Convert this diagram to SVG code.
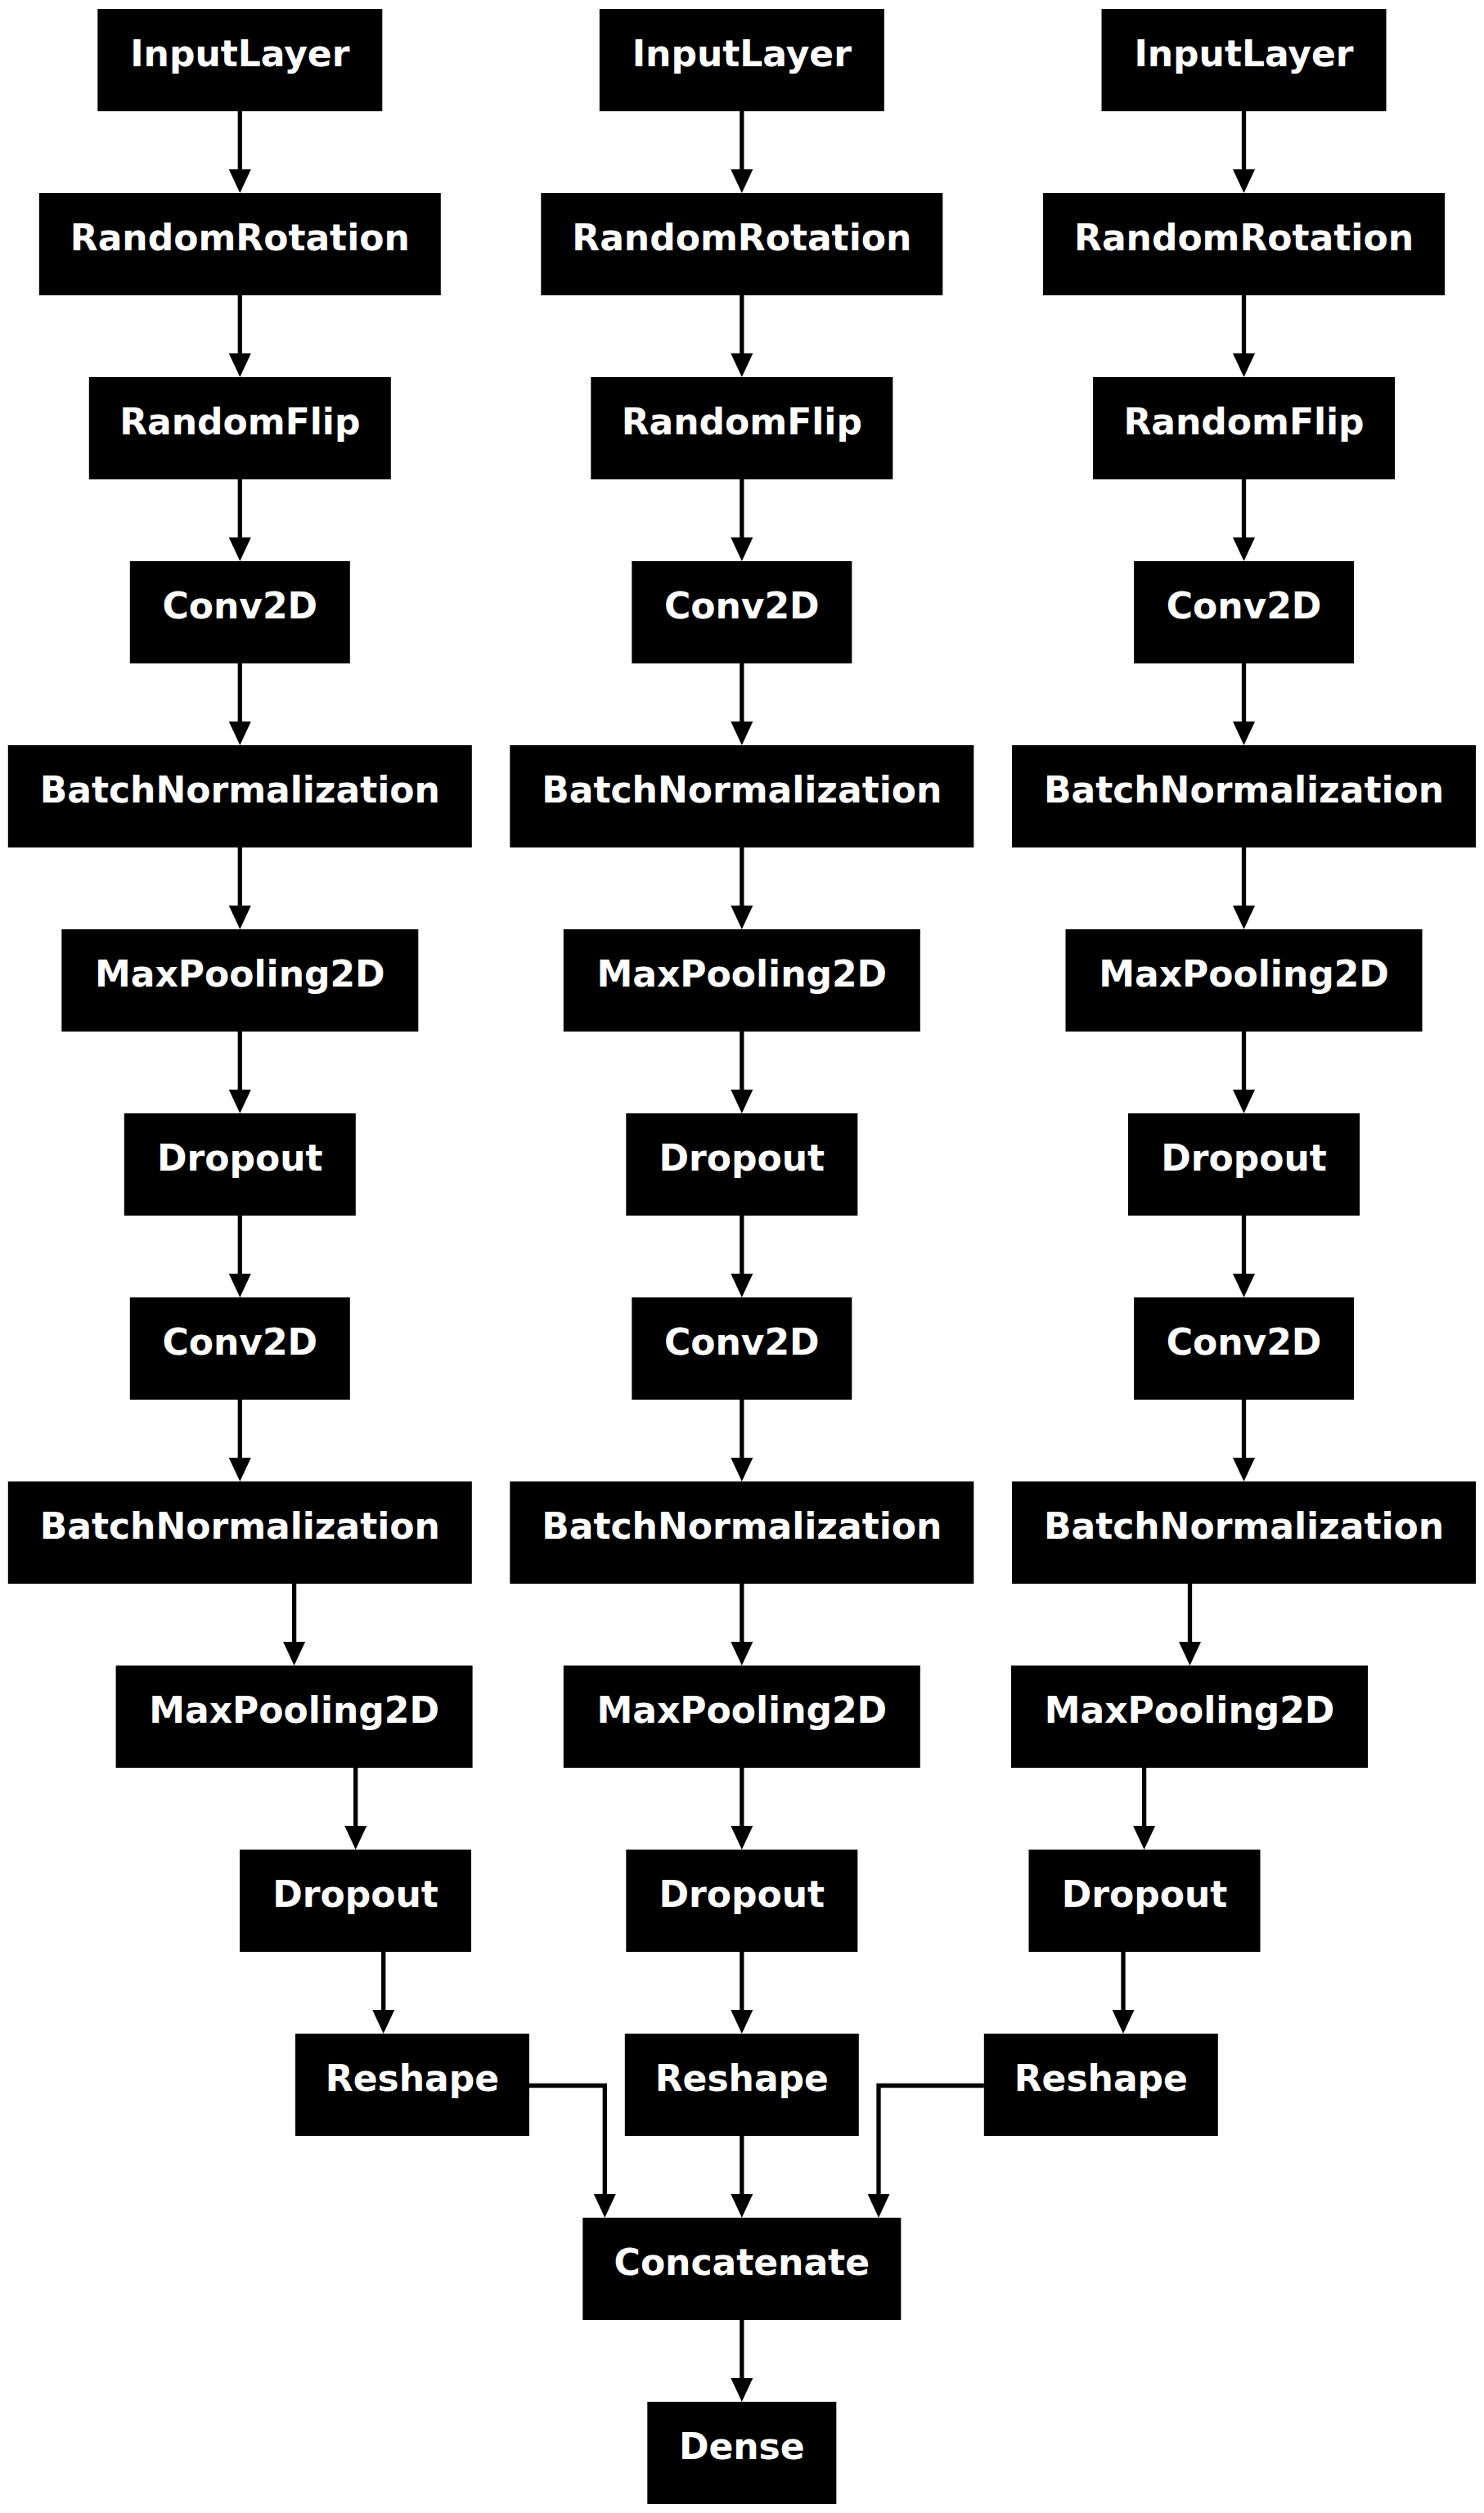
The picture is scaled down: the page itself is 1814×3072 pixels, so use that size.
<svg xmlns="http://www.w3.org/2000/svg" width="1814" height="3072" viewBox="0 0 1814 3072">
<style>
.node rect{fill:#000;}
.node text{fill:#fff;font-family:"DejaVu Sans","Liberation Sans",sans-serif;font-weight:bold;font-size:44px;text-anchor:middle;}
.edge{fill:none;stroke:#000;stroke-width:5.3;marker-end:url(#ah);}
</style>
<defs>
<marker id="ah" viewBox="0 0 29 27" refX="0" refY="13.5" markerWidth="29" markerHeight="27" markerUnits="userSpaceOnUse" orient="auto">
<path d="M0,0 L29,13.5 L0,27 z" fill="#000"/>
</marker>
</defs>
<rect width="1814" height="3072" fill="#fff"/>
<g id="connectors">
<!-- column 1 -->
<path class="edge" d="M293.3,136 V207"/>
<path class="edge" d="M293.3,361 V432"/>
<path class="edge" d="M293.3,586 V657"/>
<path class="edge" d="M293.3,811 V882"/>
<path class="edge" d="M293.3,1036 V1107"/>
<path class="edge" d="M293.3,1261 V1332"/>
<path class="edge" d="M293.3,1486 V1557"/>
<path class="edge" d="M293.3,1711 V1782"/>
<path class="edge" d="M359.6,1936 V2007"/>
<path class="edge" d="M434.7,2161 V2232"/>
<path class="edge" d="M468.7,2386 V2457"/>
<!-- column 2 -->
<path class="edge" d="M906.8,136 V207"/>
<path class="edge" d="M906.8,361 V432"/>
<path class="edge" d="M906.8,586 V657"/>
<path class="edge" d="M906.8,811 V882"/>
<path class="edge" d="M906.8,1036 V1107"/>
<path class="edge" d="M906.8,1261 V1332"/>
<path class="edge" d="M906.8,1486 V1557"/>
<path class="edge" d="M906.8,1711 V1782"/>
<path class="edge" d="M906.8,1936 V2007"/>
<path class="edge" d="M906.8,2161 V2232"/>
<path class="edge" d="M906.8,2386 V2457"/>
<!-- column 3 -->
<path class="edge" d="M1520.5,136 V207"/>
<path class="edge" d="M1520.5,361 V432"/>
<path class="edge" d="M1520.5,586 V657"/>
<path class="edge" d="M1520.5,811 V882"/>
<path class="edge" d="M1520.5,1036 V1107"/>
<path class="edge" d="M1520.5,1261 V1332"/>
<path class="edge" d="M1520.5,1486 V1557"/>
<path class="edge" d="M1520.5,1711 V1782"/>
<path class="edge" d="M1454.5,1936 V2007"/>
<path class="edge" d="M1398.6,2161 V2232"/>
<path class="edge" d="M1373,2386 V2457"/>
<!-- merge -->
<path class="edge" d="M647,2549.5 H739.3 V2682"/>
<path class="edge" d="M906.8,2611 V2682"/>
<path class="edge" d="M1202.8,2549.5 H1074 V2682"/>
<path class="edge" d="M906.8,2836 V2907"/>
</g>
<!-- column 1 nodes -->
<g id="c1_input" class="node"><rect x="119.3" y="11" width="348" height="125"/><text x="293.3" y="81">InputLayer</text></g>
<g id="c1_rot" class="node"><rect x="47.8" y="236" width="491" height="125"/><text x="293.3" y="306">RandomRotation</text></g>
<g id="c1_flip" class="node"><rect x="108.8" y="461" width="369" height="125"/><text x="293.3" y="531">RandomFlip</text></g>
<g id="c1_conv1" class="node"><rect x="158.8" y="686" width="269" height="125"/><text x="293.3" y="756">Conv2D</text></g>
<g id="c1_bn1" class="node"><rect x="9.8" y="911" width="567" height="125"/><text x="293.3" y="981">BatchNormalization</text></g>
<g id="c1_pool1" class="node"><rect x="75.3" y="1136" width="436" height="125"/><text x="293.3" y="1206">MaxPooling2D</text></g>
<g id="c1_drop1" class="node"><rect x="151.8" y="1361" width="283" height="125"/><text x="293.3" y="1431">Dropout</text></g>
<g id="c1_conv2" class="node"><rect x="158.8" y="1586" width="269" height="125"/><text x="293.3" y="1656">Conv2D</text></g>
<g id="c1_bn2" class="node"><rect x="9.8" y="1811" width="567" height="125"/><text x="293.3" y="1881">BatchNormalization</text></g>
<g id="c1_pool2" class="node"><rect x="141.6" y="2036" width="436" height="125"/><text x="359.6" y="2106">MaxPooling2D</text></g>
<g id="c1_drop2" class="node"><rect x="293" y="2261" width="283" height="125"/><text x="434.5" y="2331">Dropout</text></g>
<g id="c1_reshape" class="node"><rect x="361" y="2486" width="286" height="125"/><text x="504" y="2556">Reshape</text></g>
<!-- column 2 nodes -->
<g id="c2_input" class="node"><rect x="732.8" y="11" width="348" height="125"/><text x="906.8" y="81">InputLayer</text></g>
<g id="c2_rot" class="node"><rect x="661.3" y="236" width="491" height="125"/><text x="906.8" y="306">RandomRotation</text></g>
<g id="c2_flip" class="node"><rect x="722.3" y="461" width="369" height="125"/><text x="906.8" y="531">RandomFlip</text></g>
<g id="c2_conv1" class="node"><rect x="772.3" y="686" width="269" height="125"/><text x="906.8" y="756">Conv2D</text></g>
<g id="c2_bn1" class="node"><rect x="623.3" y="911" width="567" height="125"/><text x="906.8" y="981">BatchNormalization</text></g>
<g id="c2_pool1" class="node"><rect x="688.8" y="1136" width="436" height="125"/><text x="906.8" y="1206">MaxPooling2D</text></g>
<g id="c2_drop1" class="node"><rect x="765.3" y="1361" width="283" height="125"/><text x="906.8" y="1431">Dropout</text></g>
<g id="c2_conv2" class="node"><rect x="772.3" y="1586" width="269" height="125"/><text x="906.8" y="1656">Conv2D</text></g>
<g id="c2_bn2" class="node"><rect x="623.3" y="1811" width="567" height="125"/><text x="906.8" y="1881">BatchNormalization</text></g>
<g id="c2_pool2" class="node"><rect x="688.8" y="2036" width="436" height="125"/><text x="906.8" y="2106">MaxPooling2D</text></g>
<g id="c2_drop2" class="node"><rect x="765.3" y="2261" width="283" height="125"/><text x="906.8" y="2331">Dropout</text></g>
<g id="c2_reshape" class="node"><rect x="763.8" y="2486" width="286" height="125"/><text x="906.8" y="2556">Reshape</text></g>
<!-- column 3 nodes -->
<g id="c3_input" class="node"><rect x="1346.5" y="11" width="348" height="125"/><text x="1520.5" y="81">InputLayer</text></g>
<g id="c3_rot" class="node"><rect x="1275" y="236" width="491" height="125"/><text x="1520.5" y="306">RandomRotation</text></g>
<g id="c3_flip" class="node"><rect x="1336" y="461" width="369" height="125"/><text x="1520.5" y="531">RandomFlip</text></g>
<g id="c3_conv1" class="node"><rect x="1386" y="686" width="269" height="125"/><text x="1520.5" y="756">Conv2D</text></g>
<g id="c3_bn1" class="node"><rect x="1237" y="911" width="567" height="125"/><text x="1520.5" y="981">BatchNormalization</text></g>
<g id="c3_pool1" class="node"><rect x="1302.5" y="1136" width="436" height="125"/><text x="1520.5" y="1206">MaxPooling2D</text></g>
<g id="c3_drop1" class="node"><rect x="1379" y="1361" width="283" height="125"/><text x="1520.5" y="1431">Dropout</text></g>
<g id="c3_conv2" class="node"><rect x="1386" y="1586" width="269" height="125"/><text x="1520.5" y="1656">Conv2D</text></g>
<g id="c3_bn2" class="node"><rect x="1237" y="1811" width="567" height="125"/><text x="1520.5" y="1881">BatchNormalization</text></g>
<g id="c3_pool2" class="node"><rect x="1236" y="2036" width="436" height="125"/><text x="1454" y="2106">MaxPooling2D</text></g>
<g id="c3_drop2" class="node"><rect x="1257.5" y="2261" width="283" height="125"/><text x="1399" y="2331">Dropout</text></g>
<g id="c3_reshape" class="node"><rect x="1202.8" y="2486" width="286" height="125"/><text x="1345.8" y="2556">Reshape</text></g>
<!-- merge nodes -->
<g id="concatenate" class="node"><rect x="712.3" y="2711" width="389" height="125"/><text x="906.8" y="2781">Concatenate</text></g>
<g id="dense" class="node"><rect x="791.3" y="2936" width="231" height="125"/><text x="906.8" y="3006">Dense</text></g>
</svg>
